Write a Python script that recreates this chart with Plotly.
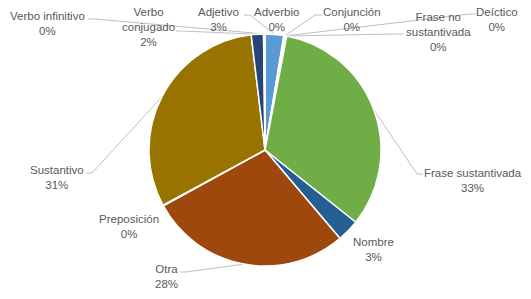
import math
import plotly.graph_objects as go

# ---- data ----
categories = ["Adjetivo", "Adverbio", "Conjunción", "Deíctico", "Frase no sustantivada",
              "Frase sustantivada", "Nombre", "Otra", "Preposición", "Sustantivo",
              "Verbo conjugado", "Verbo infinitivo"]
values = [2.6, 0.1, 0.1, 0.1, 0.1, 32.7, 3.1, 28.2, 0.1, 31.0, 1.7, 0.2]
label_text = ["Adjetivo", "Adverbio", "Conjunción", "Deíctico", "Frase no<br>sustantivada",
              "Frase sustantivada", "Nombre", "Otra", "Preposición", "Sustantivo",
              "Verbo<br>conjugado", "Verbo infinitivo"]
colors = ["#5B9BD5", "#ED7D31", "#A5A5A5", "#FFC000", "#4472C4", "#70AD47",
          "#255E91", "#9E480E", "#636363", "#997300", "#264478", "#43682B"]

W, H = 531, 299
OFF = 0  # page body margin removed via post_script
CX, CY, R = 265, 150, 116  # pie centre / radius in screen px

# label block centres (px) and leader-line start/elbow (px) – layout only
label_pos = {
    "Adjetivo": (218, 20), "Adverbio": (276, 20), "Conjunción": (352, 20),
    "Deíctico": (497, 20), "Frase no sustantivada": (438, 32),
    "Frase sustantivada": (473, 180), "Nombre": (373, 249), "Otra": (166, 276),
    "Preposición": (129, 226), "Sustantivo": (57, 177),
    "Verbo conjugado": (148, 27), "Verbo infinitivo": (47, 24),
}
leaders = {
    "Verbo infinitivo": ((88, 19), (95, 19)),
    "Verbo conjugado": ((176, 31), (182, 31)),
    "Adjetivo": ((244, 15), (250, 15)),
    "Conjunción": ((322, 15), (315, 15)),
    "Deíctico": ((476, 14), (470, 14)),
    "Frase no sustantivada": ((403, 34), (397, 34)),
    "Frase sustantivada": ((423, 174), (417, 174)),
    "Otra": ((180, 272), (186, 272)),
    "Sustantivo": ((86, 173), (92, 173)),
}

def px(x):
    return (x - OFF) / W

def py(y):
    return 1 - (y - OFF) / H

fig = go.Figure()
fig.add_trace(go.Pie(
    labels=categories, values=values, sort=False, direction="clockwise", rotation=0,
    marker=dict(colors=colors, line=dict(color="white", width=1.5)),
    textinfo="none", showlegend=False, hoverinfo="label+percent",
    domain=dict(x=[px(CX - R), px(CX + R)], y=[py(CY + R), py(CY - R)]),
))

total = sum(values)
cum = 0.0
annotations = []
shapes = []
for cat, lt, v in zip(categories, label_text, values):
    mid = (cum + v / 2) / total * 2 * math.pi
    cum += v
    ex = CX + R * math.sin(mid)
    ey = CY - R * math.cos(mid)
    pct = round(v / total * 100)
    lx, ly = label_pos[cat]
    annotations.append(dict(
        x=px(lx), y=py(ly), xref="paper", yref="paper", showarrow=False,
        text=f"{lt}<br>{pct}%", align="center", xanchor="center", yanchor="middle",
        font=dict(family="Liberation Sans", size=11.5, color="#595959"),
    ))
    if cat in leaders:
        (sx, sy), (bx, by) = leaders[cat]
        path = f"M {px(sx)} {py(sy)} L {px(bx)} {py(by)} L {px(ex)} {py(ey)}"
        shapes.append(dict(type="path", xref="paper", yref="paper", path=path,
                           line=dict(color="#BFBFBF", width=1), layer="below"))

fig.update_layout(
    width=W, height=H, margin=dict(l=0, r=0, t=0, b=0),
    paper_bgcolor="white", plot_bgcolor="white",
    annotations=annotations, shapes=shapes,
)
fig.write_html("out.html", config={"displayModeBar": False},
               post_script="document.body.style.margin='0';")
